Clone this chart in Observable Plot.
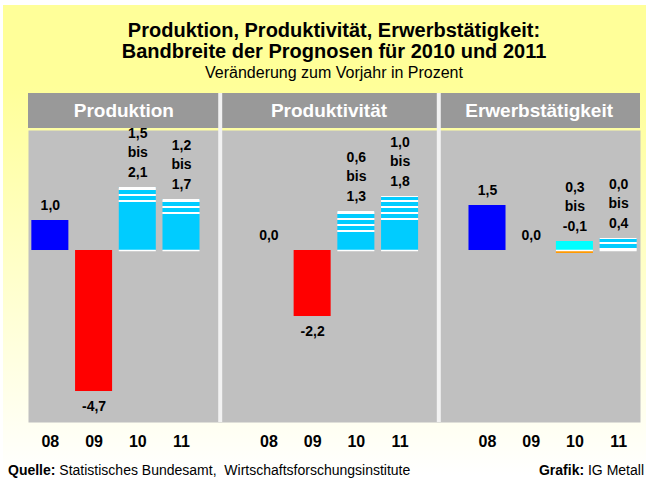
<!DOCTYPE html>
<html><head><meta charset="utf-8">
<script src="https://cdn.jsdelivr.net/npm/d3@7"></script>
<script src="https://cdn.jsdelivr.net/npm/@observablehq/plot@0.6"></script>
<style>
html,body{margin:0;padding:0;background:#fff;width:646px;height:484px;overflow:hidden;font-family:"Liberation Sans",Arial,sans-serif;position:relative;}
#bg{position:absolute;left:3px;top:5px;width:643px;height:479px;background:linear-gradient(to bottom,#FFFF99 0px,#FFFF99 80px,#FFFFFF 470px);}
#title{position:absolute;left:28px;width:612px;top:20px;text-align:center;font-weight:bold;font-size:20px;line-height:21px;color:#000;}
#subtitle{position:absolute;left:28px;width:612px;top:64px;text-align:center;font-size:16px;line-height:18px;color:#000;}
#header{position:absolute;left:28px;top:93px;width:612px;height:35px;background:#999999;}
#header span{position:absolute;top:0;height:35px;line-height:35px;text-align:center;color:#fff;font-weight:bold;font-size:19px;}
#chart{position:absolute;left:0;top:86px;}
#chart svg g[aria-label^="x-axis"] text{font-size:16px;font-weight:bold;}
#source{position:absolute;left:8px;top:462px;font-size:14px;line-height:16px;white-space:nowrap;}
#credit{position:absolute;right:2px;top:462px;font-size:14px;line-height:16px;white-space:nowrap;}
</style></head>
<body>
<svg width="0" height="0" style="position:absolute">
  <defs>
    <pattern id="stripes" patternUnits="userSpaceOnUse" width="8" height="6">
      <rect width="8" height="6" fill="#00CCFF"></rect>
      <rect width="8" height="2" fill="#FFFFFF"></rect>
    </pattern>
  </defs>
</svg>
<div id="bg"></div>
<div id="title">Produktion, Produktivität, Erwerbstätigkeit:<br>Bandbreite der Prognosen für 2010 und 2011</div>
<div id="subtitle">Veränderung zum Vorjahr in Prozent</div>
<div id="header"></div>
<div id="chart"></div>
<div id="source"><b>Quelle:</b> Statistisches Bundesamt,&nbsp; Wirtschaftsforschungsinstitute</div>
<div id="credit"><b>Grafik:</b> IG Metall</div>
<script>
// ---- data ----
const panels = ["Produktion", "Produktivität", "Erwerbstätigkeit"];
const years = ["08", "09", "10", "11"];
const actual08 = [1.0, 0.0, 1.5];
const actual09 = [-4.7, -2.2, 0.0];
const from10 = [1.5, 0.6, 0.3];
const to10 = [2.1, 1.3, -0.1];
const from11 = [1.2, 1.0, 0.0];
const to11 = [1.7, 1.8, 0.4];

// ---- derived tables ----
const key = (p, y) => p + "|" + y;
const gaps = ["gap1", "gap2"];
const xDomain = [];
panels.forEach((p, i) => {
  years.forEach(y => xDomain.push(key(p, y)));
  if (i < gaps.length) xDomain.push(gaps[i]);
});
const fmt = v => v.toFixed(1).replace(".", ",");

const actual = [];
panels.forEach((p, i) => {
  actual.push({key: key(p, "08"), v: actual08[i], fill: "#0000FF"});
  actual.push({key: key(p, "09"), v: actual09[i], fill: "#FF0000"});
});
const forecast = [];
panels.forEach((p, i) => {
  forecast.push({key: key(p, "10"), a: from10[i], b: to10[i]});
  forecast.push({key: key(p, "11"), a: from11[i], b: to11[i]});
});
const segs = [];
const stripeTops = [];
forecast.forEach(f => {
  const lo = Math.min(f.a, f.b), hi = Math.max(f.a, f.b);
  if (lo >= 0) {
    if (lo > 0) segs.push({key: f.key, y1: 0, y2: lo, fill: "#00CCFF"});
    segs.push({key: f.key, y1: lo, y2: hi, fill: "url(#stripes)"});
    stripeTops.push({key: f.key, y: hi});
  } else {
    segs.push({key: f.key, y1: 0, y2: hi, fill: "#00FFFF"});
    segs.push({key: f.key, y1: lo, y2: 0, fill: "#FF9900"});
  }
});
const bars = actual.map(d => ({key: d.key, y1: 0, y2: d.v, fill: d.fill})).concat(segs);

const sepShift = -5; // separators sit slightly left of the gap centre

const chart = Plot.plot({
  width: 646,
  height: 370,
  marginLeft: 28,
  marginRight: 6,
  marginTop: 44,
  marginBottom: 34,
  style: {background: "transparent", fontFamily: "Liberation Sans, Arial, sans-serif", fontSize: "16px", fontWeight: "bold", color: "#000"},
  x: {
    domain: xDomain,
    paddingInner: 0.153,
    paddingOuter: 0.0765,
    align: 0.5,
    round: false,
    tickSize: 0,
    tickPadding: 13,
    tickFormat: d => d.includes("|") ? d.split("|")[1] : "",
    label: null
  },
  y: {domain: [-5.733, 4.0], axis: null},
  color: {type: "identity"},
  marks: [
    Plot.frame({fill: "#C0C0C0", stroke: "none"}),
    Plot.ruleX(gaps, {x: d => d, dx: sepShift, stroke: "#F2F2F2", strokeWidth: 4, insetTop: -37}),
    Plot.barY(bars, {x: "key", y1: "y1", y2: "y2", fill: "fill"}),
    Plot.tickY(forecast, {x: "key", y: () => 0, stroke: "#FFFFFF", strokeWidth: 1.5}),
    Plot.tickY(stripeTops, {x: "key", y: "y", stroke: "#FFFFFF", strokeWidth: 1}),
    Plot.text(actual.filter(d => d.v >= 0), {x: "key", y: "v", text: d => fmt(d.v), lineAnchor: "bottom", dy: -11, fontSize: 14, fontWeight: "bold", fill: "#000"}),
    Plot.text(actual.filter(d => d.v < 0), {x: "key", y: "v", text: d => fmt(d.v), lineAnchor: "top", dy: 10, fontSize: 14, fontWeight: "bold", fill: "#000"}),
    Plot.text(forecast, {x: "key", y: d => Math.max(d.a, d.b, 0), text: d => fmt(d.a) + "\nbis\n" + fmt(d.b), lineAnchor: "bottom", lineHeight: 1.36, dy: -11, fontSize: 14, fontWeight: "bold", fill: "#000"})
  ]
});
document.getElementById("chart").appendChild(chart);

// panel headers positioned from the x scale
const xs = chart.scale("x");
const bw = xs.bandwidth;
const left = 28, right = 640;
const bounds = [left, ...gaps.map(g => xs.apply(g) + bw / 2 + sepShift), right];
const header = document.getElementById("header");
panels.forEach((p, i) => {
  const s = document.createElement("span");
  s.textContent = p;
  s.style.left = (bounds[i] - left) + "px";
  s.style.width = (bounds[i + 1] - bounds[i]) + "px";
  header.appendChild(s);
});
</script>
</body></html>
